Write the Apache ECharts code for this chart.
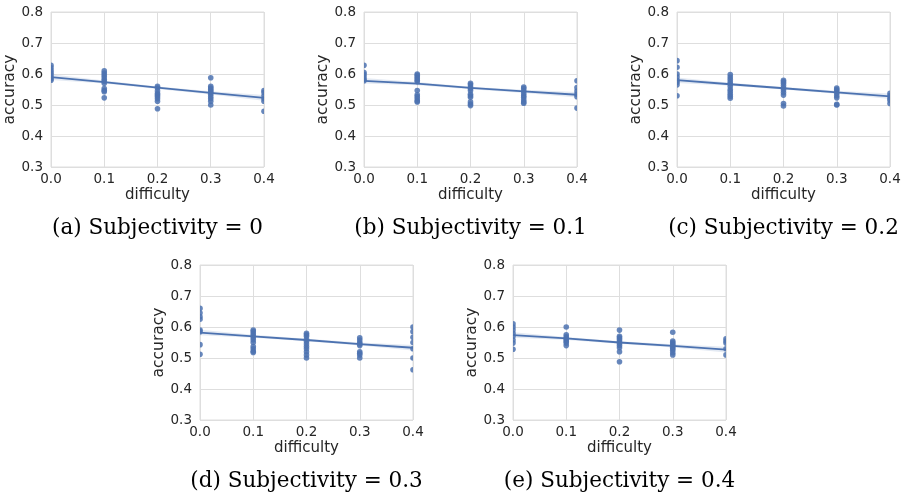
<!DOCTYPE html>
<html>
<head>
<meta charset="utf-8">
<script src="https://cdn.jsdelivr.net/npm/echarts@6/dist/echarts.min.js"></script>
<style>
    html, body { margin: 0; padding: 0; background: #fff; }
    #chart { width: 905px; height: 495px; }
</style>
</head>
<body>
<div id="chart"></div>
<script>
    // difficulty levels on the x axis
    var difficulty = [0, 0.1, 0.2, 0.3, 0.4];
    var yTicks = [0.3, 0.4, 0.5, 0.6, 0.7, 0.8];
    var captions = [
        '(a) Subjectivity = 0',
        '(b) Subjectivity = 0.1',
        '(c) Subjectivity = 0.2',
        '(d) Subjectivity = 0.3',
        '(e) Subjectivity = 0.4'
    ];

    // accuracy samples, one list per difficulty level
    var subj0 = [
        [0.628, 0.62, 0.612, 0.605, 0.598, 0.59, 0.585, 0.58],
        [0.61, 0.603, 0.597, 0.59, 0.583, 0.577, 0.57, 0.553, 0.547, 0.543, 0.523],
        [0.56, 0.555, 0.545, 0.537, 0.532, 0.527, 0.52, 0.512, 0.488],
        [0.588, 0.56, 0.555, 0.55, 0.545, 0.54, 0.535, 0.527, 0.52, 0.512, 0.5],
        [0.547, 0.54, 0.53, 0.52, 0.512, 0.48]
    ];
    var subj1 = [
        [0.628, 0.605, 0.598, 0.59, 0.583, 0.578],
        [0.6, 0.596, 0.59, 0.585, 0.58, 0.575, 0.547, 0.533, 0.527, 0.52, 0.513, 0.51],
        [0.57, 0.565, 0.558, 0.553, 0.547, 0.535, 0.53, 0.525, 0.51, 0.503, 0.498],
        [0.558, 0.553, 0.545, 0.537, 0.53, 0.525, 0.517, 0.51, 0.506],
        [0.578, 0.556, 0.545, 0.535, 0.527, 0.49]
    ];
    var subj2 = [
        [0.643, 0.622, 0.6, 0.59, 0.58, 0.573, 0.565, 0.53],
        [0.598, 0.59, 0.583, 0.575, 0.568, 0.56, 0.55, 0.543, 0.535, 0.528, 0.522],
        [0.58, 0.575, 0.57, 0.563, 0.555, 0.548, 0.54, 0.532, 0.505, 0.497],
        [0.555, 0.55, 0.545, 0.538, 0.53, 0.523, 0.502, 0.5],
        [0.538, 0.53, 0.522, 0.515, 0.505]
    ];
    var subj3 = [
        [0.66, 0.645, 0.633, 0.625, 0.59, 0.585, 0.543, 0.512],
        [0.59, 0.585, 0.578, 0.572, 0.565, 0.558, 0.55, 0.537, 0.53, 0.522, 0.518],
        [0.58, 0.575, 0.57, 0.56, 0.553, 0.545, 0.537, 0.53, 0.52, 0.51, 0.5],
        [0.565, 0.558, 0.55, 0.545, 0.54, 0.52, 0.515, 0.51, 0.5],
        [0.6, 0.585, 0.567, 0.55, 0.53, 0.5, 0.462]
    ];
    var subj4 = [
        [0.61, 0.6, 0.59, 0.58, 0.57, 0.558, 0.548, 0.528],
        [0.6, 0.575, 0.568, 0.563, 0.558, 0.553, 0.548, 0.54],
        [0.59, 0.57, 0.565, 0.56, 0.553, 0.547, 0.54, 0.533, 0.52, 0.488],
        [0.583, 0.555, 0.55, 0.545, 0.54, 0.535, 0.53, 0.525, 0.517, 0.51],
        [0.562, 0.555, 0.548, 0.53, 0.51]
    ];

    // regression line read at each difficulty level
    var fit0 = [0.59, 0.574, 0.556, 0.539, 0.523];
    var fit1 = [0.578, 0.569, 0.555, 0.544, 0.533];
    var fit2 = [0.58, 0.567, 0.554, 0.541, 0.528];
    var fit3 = [0.582, 0.57, 0.558, 0.545, 0.533];
    var fit4 = [0.574, 0.563, 0.55, 0.539, 0.527];
    // half width of the confidence band
    var ciHalf = [0.009, 0.005, 0.004, 0.005, 0.009];

    var samples = [subj0, subj1, subj2, subj3, subj4];
    var fits = [fit0, fit1, fit2, fit3, fit4];

    var positions = [
        {left: 51, top: 12},
        {left: 364, top: 12},
        {left: 677, top: 12},
        {left: 200, top: 265},
        {left: 513, top: 265}
    ];
    var W = 213, H = 155;
    var blue = '#4c72b0';
    var textColor = '#262626';
    var gridColor = '#dedede';

    var option = {
        backgroundColor: '#fff',
        animation: false,
        grid: [], xAxis: [], yAxis: [], series: [], graphic: []
    };

    positions.forEach(function (p, i) {
        option.grid.push({
            left: p.left, top: p.top, width: W, height: H,
            show: true, borderColor: gridColor, borderWidth: 1, backgroundColor: '#fff'
        });
        option.xAxis.push({
            type: 'value', gridIndex: i,
            min: difficulty[0], max: difficulty[difficulty.length - 1], interval: 0.1,
            name: 'difficulty', nameLocation: 'middle', nameGap: 21,
            nameTextStyle: {fontFamily: 'DejaVu Sans', fontSize: 15, color: textColor},
            axisLine: {show: false}, axisTick: {show: false},
            axisLabel: {
                fontFamily: 'DejaVu Sans', fontSize: 13.5, color: textColor, margin: 5,
                formatter: function (v) { return v.toFixed(1); }
            },
            splitLine: {show: true, lineStyle: {color: gridColor, width: 1}}
        });
        option.yAxis.push({
            type: 'value', gridIndex: i,
            min: yTicks[0], max: yTicks[yTicks.length - 1], interval: 0.1,
            name: 'accuracy', nameLocation: 'middle', nameGap: 30,
            nameTextStyle: {fontFamily: 'DejaVu Sans', fontSize: 15.5, color: textColor},
            axisLine: {show: false}, axisTick: {show: false},
            axisLabel: {
                fontFamily: 'DejaVu Sans', fontSize: 13.5, color: textColor, margin: 8,
                formatter: function (v) { return v.toFixed(1); }
            },
            splitLine: {show: true, lineStyle: {color: gridColor, width: 1}}
        });

        var pts = [];
        samples[i].forEach(function (vals, k) {
            vals.forEach(function (v) { pts.push([difficulty[k], v]); });
        });

        var fit = fits[i];
        option.series.push({
            type: 'custom', xAxisIndex: i, yAxisIndex: i,
            data: [[difficulty[0], fit[0]]], silent: true, z: 1, clip: true,
            renderItem: function (params, api) {
                var up = [], lo = [];
                for (var k = 0; k < difficulty.length; k++) {
                    up.push(api.coord([difficulty[k], fit[k] + ciHalf[k]]));
                    lo.unshift(api.coord([difficulty[k], fit[k] - ciHalf[k]]));
                }
                return {
                    type: 'polygon',
                    shape: {points: up.concat(lo)},
                    style: {fill: 'rgba(76,114,176,0.15)'}
                };
            }
        });
        // points drawn as circles so the plot edge cuts them in half like the original
        option.series.push({
            type: 'custom', xAxisIndex: i, yAxisIndex: i,
            data: pts, clip: true, z: 2,
            encode: {x: 0, y: 1},
            renderItem: function (params, api) {
                var c = api.coord([api.value(0), api.value(1)]);
                return {
                    type: 'circle',
                    shape: {cx: c[0], cy: c[1], r: 2.8},
                    style: {fill: blue, opacity: 0.85}
                };
            }
        });
        option.series.push({
            type: 'line', xAxisIndex: i, yAxisIndex: i,
            data: difficulty.map(function (d, k) { return [d, fit[k]]; }),
            showSymbol: false, z: 3,
            lineStyle: {color: blue, width: 1.8}
        });

        option.graphic.push({
            type: 'text', x: p.left + W / 2, y: p.top + 216,
            style: {
                text: captions[i], fontFamily: 'DejaVu Serif', fontSize: 21.5,
                fill: '#000', textAlign: 'center', textVerticalAlign: 'middle'
            }
        });
    });

    var chart = echarts.init(document.getElementById('chart'));
    chart.setOption(option);
</script>
</body>
</html>
